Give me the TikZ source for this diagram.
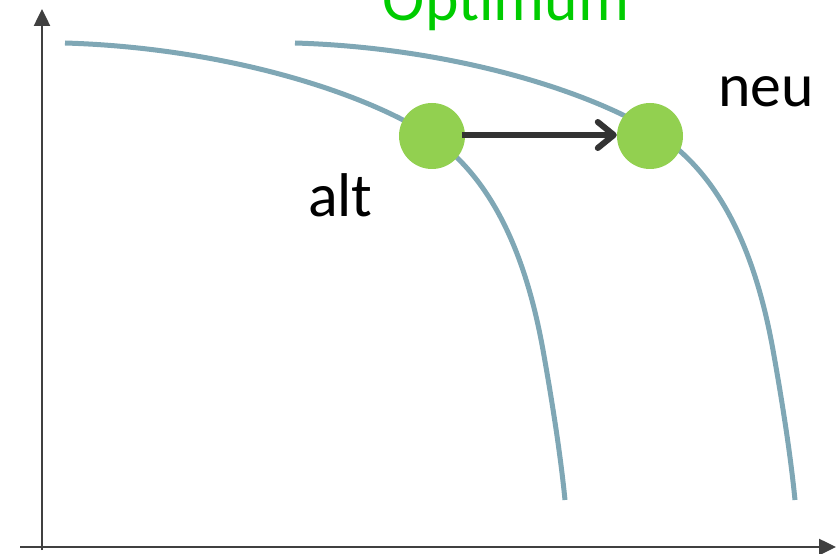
\documentclass[tikz,border=0pt]{standalone}
\usepackage{fontspec}
\setmainfont{Carlito}
\usetikzlibrary{arrows.meta}
\definecolor{curvecol}{RGB}{127,167,181}
\definecolor{dotgreen}{RGB}{146,208,80}
\definecolor{optgreen}{RGB}{0,204,0}
\definecolor{axiscol}{RGB}{64,64,64}
\definecolor{arrowcol}{RGB}{51,51,51}
\begin{document}
\begin{tikzpicture}[x=1bp,y=-1bp,
  axis/.style={draw=axiscol,line width=2.5bp,-{Triangle[length=17bp,width=16bp]}},
  frontier/.style={draw=curvecol,line width=5bp},
  dot/.style={circle,fill=dotgreen,minimum size=66bp,inner sep=0pt},
  shiftarrow/.style={draw=arrowcol,line width=6bp,-{Straight Barb[length=16bp,width=26bp,round]}},
  label/.style={font=\fontsize{62}{74}\selectfont,anchor=base west,inner sep=0pt}]
\useasboundingbox (0,0) rectangle (836,554);
\clip (0,0) rectangle (836,554);
% axes
\coordinate (ystart) at (42,550);
\coordinate (yend) at (42,9);
\coordinate (xstart) at (20,547);
\coordinate (xend) at (836,547);
\draw[axis] (ystart) -- (yend);
\draw[axis] (xstart) -- (xend);
% frontiers
\draw[frontier] (65,43) .. controls (230,48) and (370,95) .. (432,137)
  .. controls (490,177) and (525,250) .. (543,350)
  .. controls (551,395) and (560,450) .. (565,500);
\begin{scope}[xshift=230bp]
\draw[frontier] (65,43) .. controls (230,48) and (370,95) .. (432,137)
  .. controls (490,177) and (525,250) .. (543,350)
  .. controls (551,395) and (560,450) .. (565,500);
\end{scope}
% optimum points
\node[dot] (alt) at (432,136) {};
\node[dot] (neu) at (650,136) {};
\draw[shiftarrow] (alt.east) ++(-3,-1) coordinate (astart) (astart) -- (neu.west |- astart);
% labels
\node[font=\fontsize{64}{76}\selectfont,text=optgreen,anchor=base,inner sep=0pt] (opt) at (506,21) {Optimum};
\node[label] (altlabel) at (308,217) {alt};
\node[label] (neulabel) at (718,107) {neu};
\end{tikzpicture}
\end{document}
